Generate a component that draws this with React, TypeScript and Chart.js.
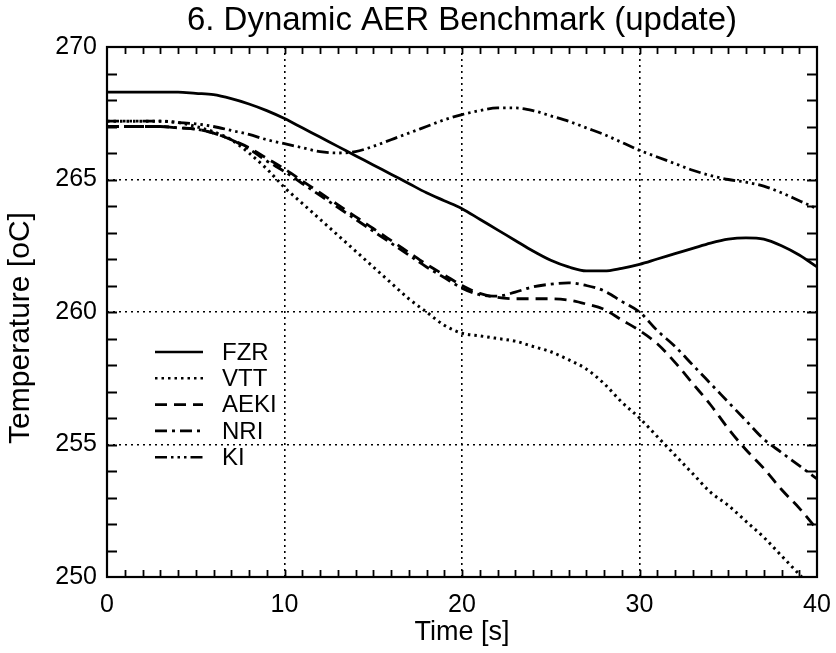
import React, { useEffect, useRef } from "react";
import { Chart, registerables } from "chart.js";

Chart.register(...registerables);

const TITLE = "6. Dynamic AER Benchmark (update)";
const X_LABEL = "Time [s]";
const Y_LABEL = "Temperature [oC]";

const TIME = [
  0, 1, 2, 3, 4, 5, 6, 7, 8, 9, 10, 11, 12, 13, 14, 15, 16, 17, 18, 19, 20,
  21, 22, 23, 24, 25, 26, 27, 28, 29, 30, 31, 32, 33, 34, 35, 36, 37, 38, 39, 40,
];

const FZR = [
  268.3, 268.3, 268.3, 268.3, 268.3, 268.25, 268.2, 268.05, 267.85, 267.6, 267.3,
  266.95, 266.6, 266.25, 265.9, 265.55, 265.2, 264.85, 264.5, 264.2, 263.9,
  263.5, 263.1, 262.7, 262.3, 261.95, 261.7, 261.55, 261.55, 261.65, 261.8,
  262.0, 262.2, 262.4, 262.6, 262.75, 262.8, 262.75, 262.5, 262.15, 261.7,
];

const VTT = [
  267.2, 267.2, 267.2, 267.2, 267.15, 267.0, 266.8, 266.5, 266.0, 265.4, 264.7,
  264.1, 263.5, 262.9, 262.3, 261.7, 261.1, 260.5, 260.0, 259.5, 259.2,
  259.1, 259.0, 258.9, 258.7, 258.5, 258.2, 257.85, 257.3, 256.6, 256.0,
  255.3, 254.6, 253.9, 253.2, 252.7, 252.1, 251.5, 250.8, 250.1, 249.4,
];

const AEKI = [
  267.0, 267.0, 267.0, 267.0, 266.95, 266.9, 266.75, 266.5, 266.2, 265.8, 265.4,
  264.95, 264.5, 264.05, 263.6, 263.15, 262.7, 262.25, 261.8, 261.4, 261.0,
  260.7, 260.55, 260.5, 260.5, 260.5, 260.45, 260.3, 260.1, 259.7, 259.3,
  258.8, 258.1, 257.3, 256.5, 255.6, 254.8, 254.1, 253.3, 252.6, 251.8,
];

const NRI = [
  267.0, 267.0, 267.0, 267.0, 266.95, 266.9, 266.75, 266.5, 266.15, 265.7, 265.3,
  264.85, 264.4, 263.95, 263.5, 263.05, 262.6, 262.15, 261.7, 261.3, 260.9,
  260.65, 260.6, 260.75, 260.95, 261.05, 261.1, 261.0, 260.8, 260.4, 260.0,
  259.3, 258.7, 258.0, 257.3, 256.6, 255.9, 255.2, 254.7, 254.2, 253.7,
];

const KI = [
  267.2, 267.2, 267.2, 267.2, 267.15, 267.1, 267.0, 266.85, 266.7, 266.5, 266.35,
  266.2, 266.05, 266.0, 266.05, 266.25, 266.5, 266.75, 267.0, 267.25, 267.45,
  267.6, 267.7, 267.7, 267.6, 267.4, 267.2, 266.95, 266.7, 266.4, 266.1,
  265.85, 265.6, 265.35, 265.15, 265.0, 264.9, 264.75, 264.5, 264.2, 263.9,
];

const SERIES_NAMES = ["FZR", "VTT", "AEKI", "NRI", "KI"];
const SERIES_VALUES = [FZR, VTT, AEKI, NRI, KI];
const SERIES_DASHES: number[][] = [
  [],
  [2.5, 4],
  [12, 7],
  [12, 5, 3, 5],
  [12, 4, 2.5, 4, 2.5, 4, 2.5, 4],
];

const X_MIN = 0;
const X_MAX = 40;
const X_MAJOR = 10;
const X_MINOR = 1;
const Y_MIN = 250;
const Y_MAX = 270;
const Y_MAJOR = 5;
const Y_MINOR = 1;

const FONT = "'Liberation Sans', Arial, Helvetica, sans-serif";

const framePlugin = {
  id: "frameTicks",
  afterDatasetsDraw(chart: any) {
    const { ctx, chartArea: a, scales } = chart;
    const xs = scales.x;
    const ys = scales.y;
    ctx.save();
    ctx.strokeStyle = "#000";
    ctx.setLineDash([]);
    ctx.lineWidth = 1.8;
    ctx.beginPath();
    for (let v = X_MIN + X_MINOR; v < X_MAX; v += X_MINOR) {
      const px = Math.round(xs.getPixelForValue(v)) + 0.5;
      ctx.moveTo(px, a.bottom);
      ctx.lineTo(px, a.bottom - 7);
      ctx.moveTo(px, a.top);
      ctx.lineTo(px, a.top + 7);
    }
    for (let v = Y_MIN + Y_MINOR; v < Y_MAX; v += Y_MINOR) {
      const py = Math.round(ys.getPixelForValue(v)) + 0.5;
      ctx.moveTo(a.left, py);
      ctx.lineTo(a.left + 10, py);
      ctx.moveTo(a.right, py);
      ctx.lineTo(a.right - 10, py);
    }
    ctx.stroke();
    ctx.lineWidth = 2.2;
    ctx.strokeRect(a.left, a.top, a.right - a.left, a.bottom - a.top);
    ctx.restore();
  },
};

const textPlugin = {
  id: "titles",
  afterDraw(chart: any) {
    const { ctx, chartArea: a } = chart;
    ctx.save();
    ctx.fillStyle = "#000";
    ctx.textAlign = "center";
    ctx.textBaseline = "middle";
    ctx.font = `33px ${FONT}`;
    ctx.fillText(TITLE, (a.left + a.right) / 2, 21);
    ctx.translate(21, (a.top + a.bottom) / 2 + 16);
    ctx.rotate(-Math.PI / 2);
    ctx.font = `30px ${FONT}`;
    ctx.fillText(Y_LABEL, 0, 0);
    ctx.restore();
  },
};

const legendPlugin = {
  id: "innerLegend",
  afterDatasetsDraw(chart: any) {
    const { ctx, chartArea: a } = chart;
    const datasets = chart.data.datasets;
    ctx.save();
    ctx.font = `24px ${FONT}`;
    ctx.fillStyle = "#000";
    ctx.textBaseline = "middle";
    ctx.textAlign = "left";
    const x0 = a.left + 48;
    const x1 = a.left + 96;
    const y0 = a.top + 305;
    const step = 26.3;
    datasets.forEach((ds: any, i: number) => {
      const y = y0 + i * step;
      ctx.strokeStyle = "#000";
      ctx.lineWidth = 2.6;
      ctx.setLineDash(ds.borderDash || []);
      ctx.beginPath();
      ctx.moveTo(x0, y);
      ctx.lineTo(x1, y);
      ctx.stroke();
      ctx.setLineDash([]);
      ctx.fillText(ds.label, a.left + 115, y + 1);
    });
    ctx.restore();
  },
};

export default function App() {
  const canvasRef = useRef<HTMLCanvasElement | null>(null);

  useEffect(() => {
    const canvas = canvasRef.current;
    if (!canvas) return;
    const datasets = SERIES_NAMES.map((name, i) => ({
      label: name,
      data: TIME.map((t, j) => ({ x: t, y: SERIES_VALUES[i][j] })),
      borderColor: "#000",
      backgroundColor: "#000",
      borderWidth: i === 1 ? 3 : 2.8,
      borderDash: SERIES_DASHES[i],
      pointRadius: 0,
      fill: false,
      cubicInterpolationMode: "monotone" as const,
    }));

    const chart = new Chart(canvas, {
      type: "line",
      data: { datasets },
      plugins: [framePlugin, legendPlugin, textPlugin],
      options: {
        animation: false,
        responsive: true,
        maintainAspectRatio: false,
        layout: { padding: { left: 0, right: 19, top: 47, bottom: 0 } },
        plugins: {
          legend: { display: false },
          tooltip: { enabled: false },
          title: { display: false },
        },
        scales: {
          x: {
            type: "linear",
            min: X_MIN,
            max: X_MAX,
            afterFit: (scale: any) => {
              scale.height = 76;
              scale.paddingLeft = 0;
              scale.paddingRight = 0;
            },
            ticks: {
              stepSize: X_MAJOR,
              color: "#000",
              padding: 13,
              font: { family: FONT, size: 25 },
              maxRotation: 0,
            },
            grid: {
              drawTicks: false,
              lineWidth: 1.6,
              color: (c: any) =>
                c.tick && (c.tick.value === X_MIN || c.tick.value === X_MAX)
                  ? "rgba(0,0,0,0)"
                  : "#000",
            },
            border: { display: false, dash: [2, 4] },
            title: {
              display: true,
              text: X_LABEL,
              color: "#000",
              font: { family: FONT, size: 27 },
              padding: { top: 0, bottom: 4 },
            },
          },
          y: {
            type: "linear",
            min: Y_MIN,
            max: Y_MAX,
            afterFit: (scale: any) => {
              scale.width = 107;
              scale.paddingTop = 0;
              scale.paddingBottom = 0;
            },
            ticks: {
              stepSize: Y_MAJOR,
              color: "#000",
              padding: 10,
              font: { family: FONT, size: 25 },
            },
            grid: {
              drawTicks: false,
              lineWidth: 1.6,
              color: (c: any) =>
                c.tick && (c.tick.value === Y_MIN || c.tick.value === Y_MAX)
                  ? "rgba(0,0,0,0)"
                  : "#000",
            },
            border: { display: false, dash: [2, 4] },
            title: { display: false },
          },
        },
      },
    });
    return () => chart.destroy();
  }, []);

  return (
    <div
      style={{
        position: "fixed",
        left: 0,
        top: 0,
        width: 836,
        height: 653,
        background: "#fff",
      }}
    >
      <canvas ref={canvasRef} />
    </div>
  );
}
